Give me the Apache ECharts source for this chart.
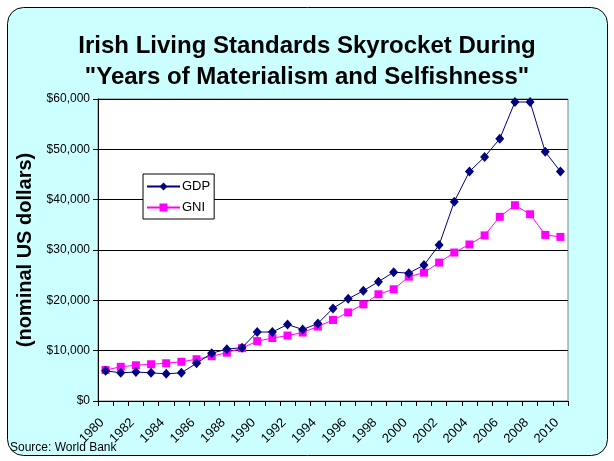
<!DOCTYPE html>
<html>
<head>
<meta charset="utf-8">
<script src="https://cdn.jsdelivr.net/npm/echarts@6/dist/echarts.min.js"></script>
<style>html,body{margin:0;padding:0;background:#fff}#c{width:614px;height:461px}</style>
</head>
<body>
<div id="c"></div>
<script>
var years = ['1980','1981','1982','1983','1984','1985','1986','1987','1988','1989','1990','1991','1992','1993','1994','1995','1996','1997','1998','1999','2000','2001','2002','2003','2004','2005','2006','2007','2008','2009','2010'];
var gdp = [6000,5600,5750,5600,5400,5600,7500,9500,10300,10600,13700,13700,15200,14200,15400,18400,20300,21900,23700,25600,25400,27000,31000,39600,45600,48500,52100,59400,59400,49500,45600];
var gni = [6150,6800,7100,7300,7500,7800,8300,8900,9600,10500,11900,12500,13000,13600,14800,16100,17600,19200,21200,22200,24700,25500,27500,29500,31100,32900,36600,38900,37100,33000,32600];
var yTicks = [0,10000,20000,30000,40000,50000,60000];

var FONT = 'Arial, "Liberation Sans", sans-serif';
var chart = echarts.init(document.getElementById('c'), null, {renderer:'canvas'});
function money(v){ return '$' + v.toString().replace(/\B(?=(\d{3})+(?!\d))/g, ','); }
chart.setOption({
  backgroundColor: '#ffffff',
  animation: false,
  graphic: [
    {type:'rect', z:-10, shape:{x:7.5, y:7.5, width:600, height:448, r:16}, style:{fill:'#ccffff', stroke:'#000', lineWidth:1}},
    {type:'rect', z:-5, shape:{x:98, y:99, width:470, height:302}, style:{fill:'#ffffff', stroke:'#808080', lineWidth:1}},
    {type:'text', left:10, top:442, style:{text:'Source: World Bank', font:'12px ' + FONT, fill:'#000'}}
  ],
  title: {
    text: 'Irish Living Standards Skyrocket During\n"Years of Materialism and Selfishness"',
    left: 'center', top: 26,
    textStyle: {fontFamily: FONT, fontSize: 24, fontWeight: 'bold', color: '#000', lineHeight: 31}
  },
  legend: {
    orient: 'vertical', left: 143, top: 174,
    backgroundColor: '#fff', borderColor: '#000', borderWidth: 1,
    padding: [6, 4, 5, 3], itemGap: 8, itemWidth: 33, itemHeight: 10,
    textStyle: {fontFamily: FONT, fontSize: 13, color: '#000', padding:[0,0,0,-3]},
    data: ['GDP', 'GNI']
  },
  grid: {left: 98, right: 46, top: 99, bottom: 60, containLabel: false, outerBoundsMode: 'none'},
  xAxis: {
    type: 'category', data: years, boundaryGap: true,
    axisLine: {lineStyle: {color: '#000', width: 1}},
    axisTick: {show: true, length: 5, interval: 0, lineStyle: {color: '#000'}},
    axisLabel: {interval: 1, rotate: 45, margin: 16, padding: [0, 5, 0, 0], fontFamily: FONT, fontSize: 13, color: '#000'},
    splitLine: {show: false}
  },
  yAxis: {
    type: 'value', min: 0, max: 60000, interval: 10000,
    name: '(nominal US dollars)', nameLocation: 'middle', nameGap: 63,
    nameTextStyle: {fontFamily: FONT, fontSize: 20, fontWeight: 'bold', color: '#000'},
    axisLine: {show: true, lineStyle: {color: '#000'}},
    axisTick: {show: true, length: 5, lineStyle: {color: '#000'}},
    axisLabel: {margin: 8, fontFamily: FONT, fontSize: 12, color: '#000', formatter: function(v){ return money(v); }},
    splitLine: {show: true, lineStyle: {color: '#000', width: 1}}
  },
  series: [
    {name: 'GDP', type: 'line', data: gdp, symbol: 'diamond', symbolSize: [9, 10],
     itemStyle: {color: '#000080'}, lineStyle: {color: '#000080', width: 1}, z: 3},
    {name: 'GNI', type: 'line', data: gni, symbol: 'rect', symbolSize: 8,
     itemStyle: {color: '#ff00ff'}, lineStyle: {color: '#ff00ff', width: 1}, z: 2}
  ]
});
</script>
</body>
</html>
